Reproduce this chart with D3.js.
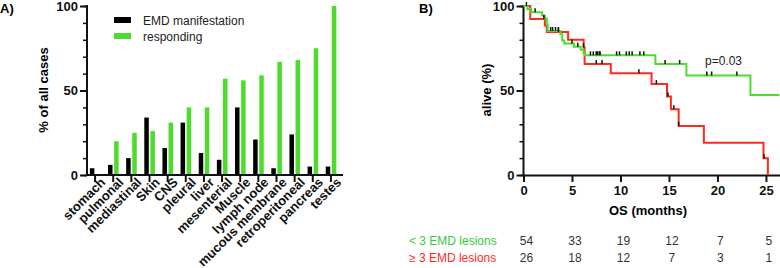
<!DOCTYPE html>
<html>
<head>
<meta charset="utf-8">
<script src="https://cdn.jsdelivr.net/npm/d3@7"></script>
<style>
  body { margin: 0; background: #fff; }
  svg { font-family: "Liberation Sans", Arial, sans-serif; }
  .axis path, .axis line { stroke: #111; }
  .axis text { font-weight: bold; font-size: 13px; fill: #111; }
</style>
</head>
<body>
<svg id="chart" width="780" height="268"></svg>
<script>
// ---- panel A data ----
const sites = ['stomach','pulmonal','mediastinal','Skin','CNS','pleural','liver','mesenterial',
               'Muscle','lymph node','mucous membrane','retroperitoneal','pancreas','testes'];
const emdPct = [4, 6, 10, 34, 16, 31, 13, 9, 40, 21, 4, 24, 5, 5];
const respPct = [0, 20, 25, 26, 31, 40, 40, 57, 56, 59, 67, 68, 75, 100];
const pctTicks = [0, 50, 100];

// ---- panel B data (Kaplan-Meier steps: [months, % alive]) ----
const lowSteps = [[0,100],[0.4,98.1],[0.8,96.3],[1.9,94.4],[2.2,92.6],[2.4,88.9],[2.5,85.2],
                  [3.8,83.3],[4.0,79.6],[4.2,77.8],[5.2,75.9],[5.9,74.1],[6.2,72.2],[6.3,70.8],
                  [13.6,65.7],[16.8,58.9],[23.4,47.3],[26.4,47.3]];
const highSteps = [[0,100],[0.7,92.3],[2.2,88.5],[2.4,84.6],[4.6,80.0],[6.2,75.5],[6.3,65.7],
                   [9.0,60.2],[13.2,53.8],[14.8,46.4],[15.2,38.9],[16.0,29.0],[18.6,19.1],
                   [24.75,9.9],[25.2,0]];
const lowCensor = [1.2, 2.8, 3.0, 3.3, 3.6, 5.0, 5.6, 6.9, 7.2, 7.5, 7.6, 7.8, 7.9, 9.6, 9.9,
                   10.6, 10.9, 11.2, 12.0, 12.4, 14.6, 16.1, 18.9, 19.4, 22.0];
const highCensor = [0.3, 2.1, 3.6, 6.2, 7.5, 8.1, 11.9, 13.7, 14.9, 15.5, 16.0, 24.8];
const monthTicks = [0, 5, 10, 15, 20, 25];
const riskLow = [54, 33, 19, 12, 7, 5];
const riskHigh = [26, 18, 12, 7, 3, 1];

const GREEN = '#4ddc2c';
const RED = '#ff2a1c';

const svg = d3.select('#chart');

// ================= panel A =================
const yA = d3.scaleLinear().domain([0, 100]).range([175, 6]);
const xA = d3.scaleBand().domain(sites).range([86, 340]);

// y axis with minor ticks
const gyA = svg.append('g').attr('class', 'axis');
gyA.append('g')
   .attr('transform', 'translate(87,0)')
   .call(d3.axisLeft(yA).tickValues(d3.range(0, 101, 10)).tickSize(4).tickFormat(''))
   .call(g => g.select('.domain').remove())
   .selectAll('line').attr('stroke-width', 1.5);
gyA.append('g')
   .attr('transform', 'translate(87,0)')
   .call(d3.axisLeft(yA).tickValues(pctTicks).tickSize(7).tickPadding(2))
   .call(g => g.select('.domain').attr('stroke-width', 2).attr('d', 'M0,175V5'))
   .selectAll('line').attr('stroke-width', 2);

// bars
const barW = 4.5;
svg.append('g').selectAll('rect')
   .data(sites).join('rect')
   .attr('x', d => xA(d) + xA.bandwidth() / 2 - barW - 0.7)
   .attr('y', (d, i) => yA(emdPct[i]))
   .attr('width', barW)
   .attr('height', (d, i) => yA(0) - yA(emdPct[i]))
   .attr('fill', '#000');
svg.append('g').selectAll('rect')
   .data(sites).join('rect')
   .attr('x', d => xA(d) + xA.bandwidth() / 2 + 0.9)
   .attr('y', (d, i) => yA(respPct[i]))
   .attr('width', barW)
   .attr('height', (d, i) => yA(0) - yA(respPct[i]))
   .attr('fill', GREEN);

// x axis
const gxA = svg.append('g').attr('class', 'axis')
   .attr('transform', 'translate(0,175)')
   .call(d3.axisBottom(xA).tickSize(7).tickSizeOuter(0));
gxA.select('.domain').attr('stroke-width', 2).attr('d', 'M86,0H343');
gxA.selectAll('line').attr('stroke-width', 2);
gxA.selectAll('text')
   .attr('text-anchor', 'end')
   .attr('font-size', '11.5px')
   .attr('dy', '0')
   .attr('transform', 'translate(4,1) rotate(-45)');

svg.append('text')
   .attr('transform', 'translate(48,90) rotate(-90)')
   .attr('text-anchor', 'middle')
   .attr('font-weight', 'bold').attr('font-size', '13px')
   .text('% of all cases');

svg.append('text').attr('x', 0).attr('y', 13)
   .attr('font-weight', 'bold').attr('font-size', '13px').text('A)');

// legend
const legendA = [['EMD manifestation', '#000'], ['responding', GREEN]];
const lg = svg.append('g').selectAll('g').data(legendA).join('g')
   .attr('transform', (d, i) => `translate(114,${17 + i * 16})`);
lg.append('rect').attr('width', 17).attr('height', 6).attr('fill', d => d[1]);
lg.append('text').attr('x', 29).attr('y', 7.5)
   .attr('font-size', '12px').attr('fill', '#222').text(d => d[0]);

// ================= panel B =================
const xB = d3.scaleLinear().domain([0, 26.45]).range([523.5, 780]);
const yB = d3.scaleLinear().domain([0, 100]).range([175, 6]);

const gyB = svg.append('g').attr('class', 'axis');
gyB.append('g')
   .attr('transform', 'translate(523.5,0)')
   .call(d3.axisLeft(yB).tickValues(d3.range(0, 101, 10)).tickSize(4).tickFormat(''))
   .call(g => g.select('.domain').remove())
   .selectAll('line').attr('stroke-width', 1.5);
gyB.append('g')
   .attr('transform', 'translate(523.5,0)')
   .call(d3.axisLeft(yB).tickValues(pctTicks).tickSize(7).tickPadding(2))
   .call(g => g.select('.domain').attr('stroke-width', 2).attr('d', 'M0,176V5'))
   .selectAll('line').attr('stroke-width', 2);

const gxB = svg.append('g').attr('class', 'axis')
   .attr('transform', 'translate(0,175)')
   .call(d3.axisBottom(xB).tickValues(monthTicks).tickSize(7).tickPadding(4).tickSizeOuter(0));
gxB.select('.domain').attr('stroke-width', 2);
gxB.selectAll('line').attr('stroke-width', 2);

const stepLine = d3.line()
   .x(d => xB(d[0]))
   .y(d => yB(d[1]))
   .curve(d3.curveStepAfter);

function survAt(steps, t){
  let s = steps[0][1];
  for (const p of steps) { if (p[0] <= t) s = p[1]; }
  return s;
}

const groups = [[highSteps, highCensor, RED], [lowSteps, lowCensor, GREEN]];
groups.forEach(([steps, cens, col]) => {
  svg.append('path')
     .datum(steps)
     .attr('d', stepLine)
     .attr('fill', 'none')
     .attr('stroke', col)
     .attr('stroke-width', 2);
});
groups.forEach(([steps, cens]) => {
  svg.append('g').selectAll('line')
     .data(cens).join('line')
     .attr('x1', d => xB(d)).attr('x2', d => xB(d))
     .attr('y1', d => yB(survAt(steps, d)))
     .attr('y2', d => yB(survAt(steps, d)) - 4)
     .attr('stroke', '#111')
     .attr('stroke-width', 1.5);
});

svg.append('text').attr('x', 705).attr('y', 65)
   .attr('font-size', '12px').attr('fill', '#222').text('p=0.03');

svg.append('text')
   .attr('transform', 'translate(491,90) rotate(-90)')
   .attr('text-anchor', 'middle')
   .attr('font-weight', 'bold').attr('font-size', '13px')
   .text('alive (%)');

svg.append('text').attr('x', 648).attr('y', 215)
   .attr('text-anchor', 'middle')
   .attr('font-weight', 'bold').attr('font-size', '13px')
   .text('OS (months)');

svg.append('text').attr('x', 419).attr('y', 13)
   .attr('font-weight', 'bold').attr('font-size', '13px').text('B)');

// numbers at risk
const riskRows = [['< 3 EMD lesions', riskLow, '#3cc83c', 245], ['≥ 3 EMD lesions', riskHigh, RED, 262]];
riskRows.forEach(([label, vals, col, yy]) => {
  svg.append('text').attr('x', 409).attr('y', yy)
     .attr('font-size', '12px').attr('fill', col).text(label);
  svg.append('g').selectAll('text')
     .data(vals).join('text')
     .attr('x', (d, i) => xB(monthTicks[i]) + 3)
     .attr('y', yy)
     .attr('text-anchor', 'middle')
     .attr('font-size', '12px')
     .attr('fill', '#333')
     .text(d => d);
});
</script>
</body>
</html>
